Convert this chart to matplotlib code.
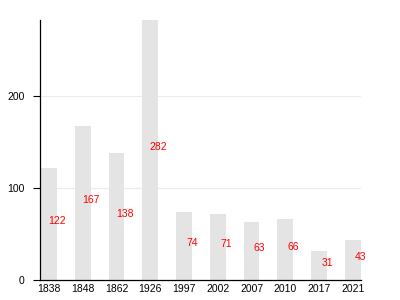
import matplotlib
matplotlib.use("Agg")
import matplotlib.pyplot as plt
import numpy as np

years = ['1838', '1848', '1862', '1926', '1997', '2002', '2007', '2010', '2017', '2021']
values = [122, 167, 138, 282, 74, 71, 63, 66, 31, 43]

plt.rcParams['font.family'] = ['Liberation Sans', 'DejaVu Sans']

fig = plt.figure(figsize=(4, 3), dpi=100)
ax = fig.add_axes([0.10, 0.067, 0.802, 0.866])

x = np.arange(len(years))
w = 0.47
ax.bar(x, values, width=w, color='#e4e4e4', zorder=2)

# value labels sit halfway up each bar, nudged right
for xi, v in zip(x, values):
    ax.text(xi + 0.24, v / 2 + 3, str(v), color='red', fontsize=7.5,
            ha='center', va='center', zorder=3)

ax.set_xlim(-w / 2 - 0.03, len(years) - 1 + w / 2)
ax.set_ylim(0, 282)
ax.set_yticks([0, 100, 200])
ax.set_xticks(x)
ax.set_xticklabels(years)
ax.tick_params(axis='x', length=0, pad=3, labelsize=7.5)
ax.tick_params(axis='y', length=5, width=0.8, pad=6, labelsize=7.5, color='black')
ax.yaxis.grid(True, color='#ececec', linewidth=0.8, zorder=0)
ax.spines['top'].set_visible(False)
ax.spines['right'].set_visible(False)
ax.spines['left'].set_linewidth(0.9)
ax.spines['bottom'].set_linewidth(0.9)

fig.savefig('out.png', dpi=100)
